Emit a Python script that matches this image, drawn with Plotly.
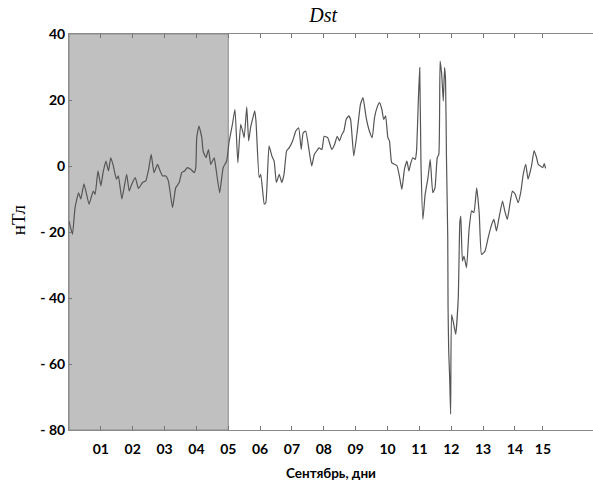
import plotly.graph_objects as go

# Time in days since start of 1 September, Dst values in nT
days = [0.00, 0.11, 0.19, 0.30, 0.37, 0.47, 0.63, 0.76, 0.82, 0.91, 1.00, 1.07, 1.16, 1.24, 1.31, 1.38,
        1.49, 1.55, 1.66, 1.81, 1.89, 1.97, 2.08, 2.18, 2.31, 2.41, 2.50, 2.58, 2.67, 2.78, 2.86, 2.94,
        3.04, 3.12, 3.25, 3.35, 3.46, 3.54, 3.63, 3.72, 3.82, 3.93, 3.98, 4.01, 4.08, 4.17, 4.21, 4.30,
        4.38, 4.45, 4.56, 4.61, 4.73, 4.84, 4.95, 5.03, 5.13, 5.21, 5.30, 5.39, 5.45, 5.50, 5.58, 5.64,
        5.70, 5.76, 5.83, 5.87, 5.97, 6.02, 6.13, 6.18, 6.28, 6.37, 6.44, 6.51, 6.60, 6.68, 6.75, 6.83,
        6.91, 7.02, 7.12, 7.21, 7.29, 7.35, 7.43, 7.54, 7.62, 7.70, 7.77, 7.85, 7.94, 8.01, 8.12, 8.25,
        8.34, 8.42, 8.49, 8.57, 8.63, 8.70, 8.78, 8.84, 8.94, 9.05, 9.15, 9.23, 9.33, 9.43, 9.52, 9.59,
        9.67, 9.75, 9.82, 9.88, 9.94, 10.01, 10.06, 10.13, 10.22, 10.30, 10.38, 10.45, 10.53, 10.61,
        10.67, 10.72, 10.79, 10.87, 10.91, 10.97, 11.01, 11.05, 11.11, 11.18, 11.27, 11.34, 11.42,
        11.49, 11.56, 11.61, 11.65, 11.70, 11.75, 11.79, 11.82, 11.85, 11.89, 11.90, 11.92, 11.95,
        11.98, 12.01, 12.06, 12.14, 12.22, 12.27, 12.30, 12.35, 12.40, 12.48, 12.56, 12.64, 12.71,
        12.80, 12.88, 12.95, 13.06, 13.16, 13.27, 13.34, 13.42, 13.50, 13.61, 13.68, 13.76, 13.84,
        13.92, 14.01, 14.10, 14.18, 14.26, 14.34, 14.41, 14.52, 14.60, 14.68, 14.73, 14.80, 14.87,
        14.92, 14.96]
dst = [-16.7, -20.7, -12.6, -8.1, -10.0, -5.4, -11.6, -7.6, -8.6, -1.5, -6.0, -2.0, 1.5, -1.5, 2.5, 0.5,
       -4.0, -3.0, -10.0, -2.5, -7.6, -5.5, -3.5, -6.8, -5.0, -4.5, -1.0, 3.5, -2.0, 0.5, -1.5, -3.0,
       -3.0, -4.5, -12.6, -6.6, -5.0, -2.0, -1.5, -0.5, -1.0, -2.0, -0.5, 8.6, 12.1, 8.6, 4.5, 2.5,
       5.0, 0.5, 2.5, -0.5, -8.1, -0.5, 1.5, 7.6, 12.6, 17.2, 1.0, 12.6, 10.6, 8.6, 17.9, 7.6,
       11.6, 14.1, 16.7, 13.6, -3.5, -2.5, -11.6, -11.1, 6.1, 3.0, 1.5, -5.0, -2.5, -5.0, -2.5, 4.5,
       5.5, 7.6, 10.6, 11.6, 5.0, 10.0, 10.6, 4.5, 0.0, 3.5, 4.5, 5.5, 5.0, 9.0, 8.6, 5.0,
       6.6, 9.0, 7.6, 9.6, 10.6, 14.1, 15.2, 14.1, 3.0, 10.6, 18.7, 20.7, 14.6, 10.6, 8.6, 14.6,
       17.7, 19.2, 17.2, 14.1, 15.2, 8.6, 7.6, 1.0, 0.5, 0.0, -3.5, -7.1, -1.0, 1.5,
       -1.5, 0.5, 2.5, 2.0, 4.5, 20.7, 29.8, 0.5, -16.2, -8.6, -3.5, 2.0, -8.1,
       -6.6, 2.5, 3.5, 31.8, 27.8, 19.7, 29.8, 26.3, 2.5, -21.7, -43.0, -56.0, -64.0,
       -75.2, -45.0, -47.0, -51.0, -40.0, -17.0, -15.2, -28.8, -27.3, -30.8, -19.2, -13.6, -14.1,
       -6.6, -14.6, -26.8, -25.8, -21.7, -17.7, -16.2, -19.7, -15.7, -10.6, -13.6, -16.2, -11.6,
       -7.6, -8.6, -11.1, -8.1, -2.5, 0.5, -4.0, 0.0, 4.7, 2.5, 0.5, 0.0, -0.5,
       0.7, -0.7]

x_tick_vals = [1, 2, 3, 4, 5, 6, 7, 8, 9, 10, 11, 12, 13, 14, 14.88]
x_tick_text = ["01", "02", "03", "04", "05", "06", "07", "08", "09", "10", "11", "12", "13", "14", "15"]
y_tick_vals = [40, 20, 0, -20, -40, -60, -80]
y_tick_text = ["40", "20", "0", "- 20", "- 40", "- 60", "- 80"]
shaded_days = [0, 5]

fig = go.Figure()
fig.add_shape(type="rect", xref="x", yref="y", x0=shaded_days[0], x1=shaded_days[1], y0=-80, y1=40,
              fillcolor="#c0c0c0", line=dict(color="#8a8a8a", width=1), layer="below")
fig.add_trace(go.Scatter(x=days, y=dst, mode="lines",
                         line=dict(color="#555555", width=1.2, shape="spline", smoothing=0.4),
                         showlegend=False))

tick_font = dict(family="Lato", size=14, color="black", weight="bold")
fig.update_layout(
    width=593, height=481,
    margin=dict(l=69, r=0, t=34, b=51),
    paper_bgcolor="white", plot_bgcolor="white",
    title=dict(text="<i>Dst</i>", x=0.545, xanchor="center", y=0.968, yanchor="middle",
               font=dict(family="Liberation Serif", size=20, color="black")),
    xaxis=dict(range=[0, 16.45], tickvals=x_tick_vals, ticktext=x_tick_text,
               ticks="inside", ticklen=4, tickcolor="#777", showline=True, linecolor="#8a8a8a",
               linewidth=1, mirror="ticks", showgrid=False, zeroline=False, tickfont=tick_font,
               ticklabelstandoff=6,
               title=dict(text="Сентябрь, дни", standoff=12,
                          font=dict(family="Lato", size=13.5, color="black", weight="bold"))),
    yaxis=dict(range=[-80, 40], tickvals=y_tick_vals, ticktext=y_tick_text,
               ticks="inside", ticklen=3, tickcolor="#777", showline=True, linecolor="#8a8a8a",
               linewidth=1, showgrid=False, zeroline=False, tickfont=tick_font),
    annotations=[dict(text="нТл", xref="paper", yref="paper", x=-0.097, y=0.53,
                      xanchor="center", yanchor="middle", textangle=-90, showarrow=False,
                      font=dict(family="Liberation Serif", size=19, color="black"))],
)

fig.write_html("out.html")
